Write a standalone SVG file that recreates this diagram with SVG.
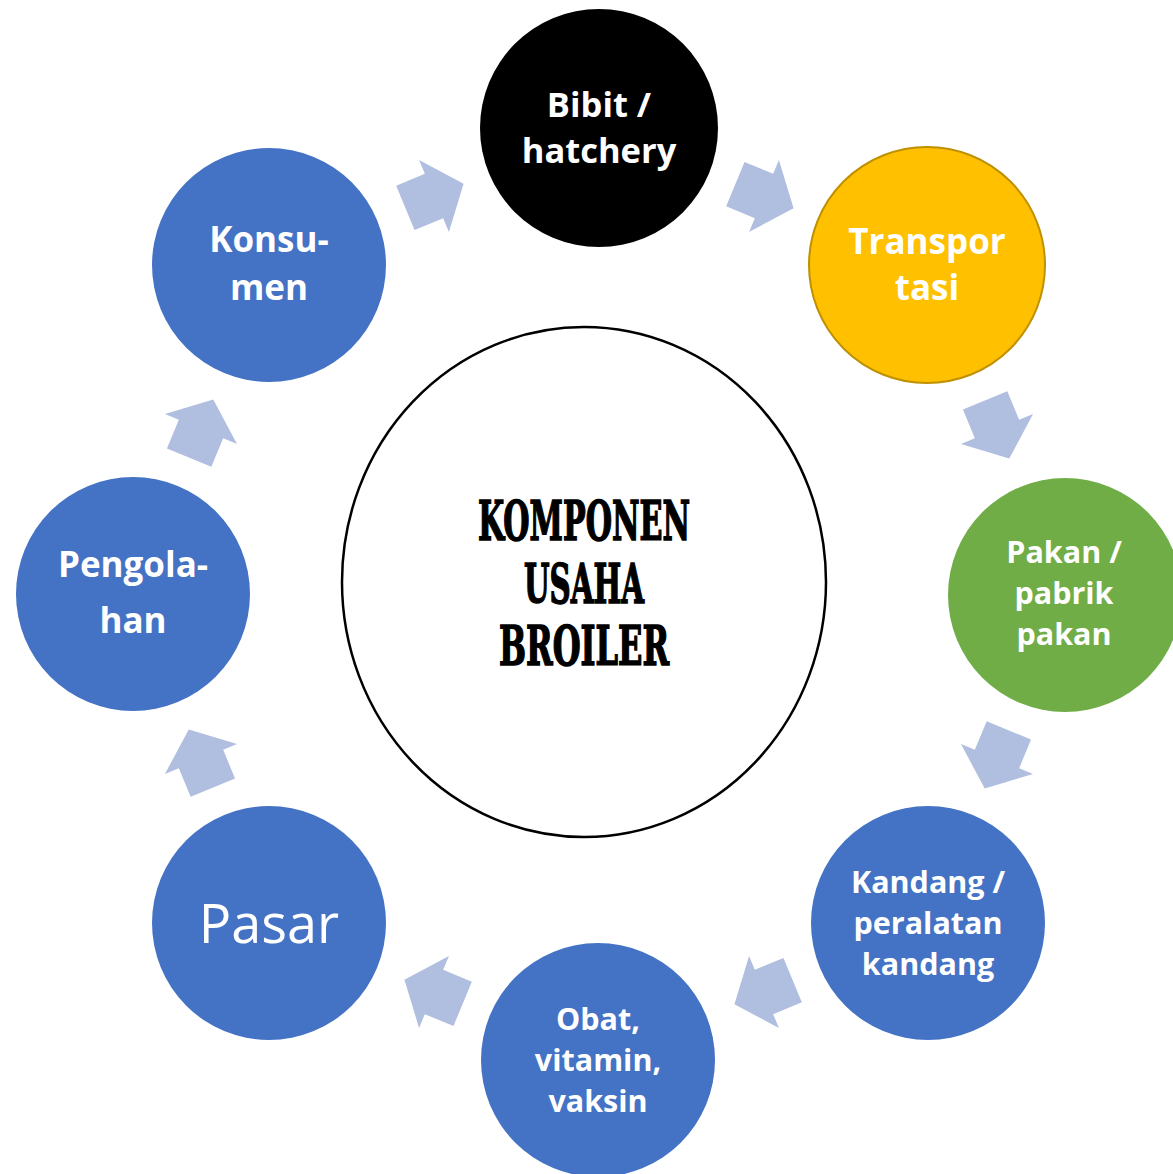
<svg xmlns="http://www.w3.org/2000/svg" width="1173" height="1174" viewBox="0 0 1173 1174">
<style>
.lbl{font-family:"Open Sans","Liberation Sans",sans-serif;font-weight:bold;fill:#fff;text-anchor:middle}
.blue{fill:#4472C4}
.arr{fill:#B0BEDF}
.ctr{font-family:"DejaVu Serif Condensed","DejaVu Serif",serif;font-weight:bold;font-size:54px;fill:#000;stroke:#000;stroke-width:1.5;text-anchor:middle}
</style>
<defs>
<polygon id="arrow" points="-31,-24 0,-24 0,-39 32,0 0,39 0,24 -31,24"/>
</defs>
<rect width="1173" height="1174" fill="#fff"/>
<g id="center">
<ellipse cx="584" cy="582" rx="242" ry="255" fill="#fff" stroke="#000" stroke-width="2.5"/>
<text class="ctr" x="584" y="540" textLength="212" lengthAdjust="spacingAndGlyphs">KOMPONEN</text>
<text class="ctr" x="584" y="603" textLength="120" lengthAdjust="spacingAndGlyphs">USAHA</text>
<text class="ctr" x="584" y="665" textLength="170" lengthAdjust="spacingAndGlyphs">BROILER</text>
</g>
<g id="connectors">
<use href="#arrow" class="arr" transform="translate(764,196) rotate(22.5)"/>
<use href="#arrow" class="arr" transform="translate(997,429) rotate(67.5)"/>
<use href="#arrow" class="arr" transform="translate(997,759) rotate(112.5)"/>
<use href="#arrow" class="arr" transform="translate(764,992) rotate(157.5)"/>
<use href="#arrow" class="arr" transform="translate(434,992) rotate(202.5)"/>
<use href="#arrow" class="arr" transform="translate(201,759) rotate(247.5)"/>
<use href="#arrow" class="arr" transform="translate(201,429) rotate(292.5)"/>
<use href="#arrow" class="arr" transform="translate(434,196) rotate(337.5)"/>
</g>
<g id="bibit">
<circle cx="599" cy="128" r="119" fill="#000"/>
<text class="lbl" font-size="34.5" x="599" y="117">Bibit /</text>
<text class="lbl" font-size="34.5" x="599" y="163">hatchery</text>
</g>
<g id="transportasi">
<circle cx="927" cy="265" r="118" fill="#FFC000" stroke="#BF9000" stroke-width="2"/>
<text class="lbl" font-size="35" x="927" y="254">Transpor</text>
<text class="lbl" font-size="35" x="927" y="300">tasi</text>
</g>
<g id="pakan">
<circle cx="1065" cy="595" r="117" fill="#70AD47"/>
<text class="lbl" font-size="30.5" x="1064" y="563">Pakan /</text>
<text class="lbl" font-size="30.5" x="1064" y="604">pabrik</text>
<text class="lbl" font-size="30.5" x="1064" y="645">pakan</text>
</g>
<g id="kandang">
<circle class="blue" cx="928" cy="923" r="117"/>
<text class="lbl" font-size="30.5" x="928" y="893">Kandang /</text>
<text class="lbl" font-size="30.5" x="928" y="934">peralatan</text>
<text class="lbl" font-size="30.5" x="928" y="975">kandang</text>
</g>
<g id="obat">
<circle class="blue" cx="598" cy="1060" r="117"/>
<text class="lbl" font-size="30.5" x="598" y="1030">Obat,</text>
<text class="lbl" font-size="30.5" x="598" y="1071">vitamin,</text>
<text class="lbl" font-size="30.5" x="598" y="1112">vaksin</text>
</g>
<g id="pasar">
<circle class="blue" cx="269" cy="923" r="117"/>
<text class="lbl" font-size="54" style="font-weight:normal" x="269" y="943">Pasar</text>
</g>
<g id="pengolahan">
<circle class="blue" cx="133" cy="594" r="117"/>
<text class="lbl" font-size="35" x="133" y="577">Pengola-</text>
<text class="lbl" font-size="35" x="133" y="633">han</text>
</g>
<g id="konsumen">
<circle class="blue" cx="269" cy="265" r="117"/>
<text class="lbl" font-size="35" x="269" y="252">Konsu-</text>
<text class="lbl" font-size="35" x="269" y="300">men</text>
</g>
</svg>
